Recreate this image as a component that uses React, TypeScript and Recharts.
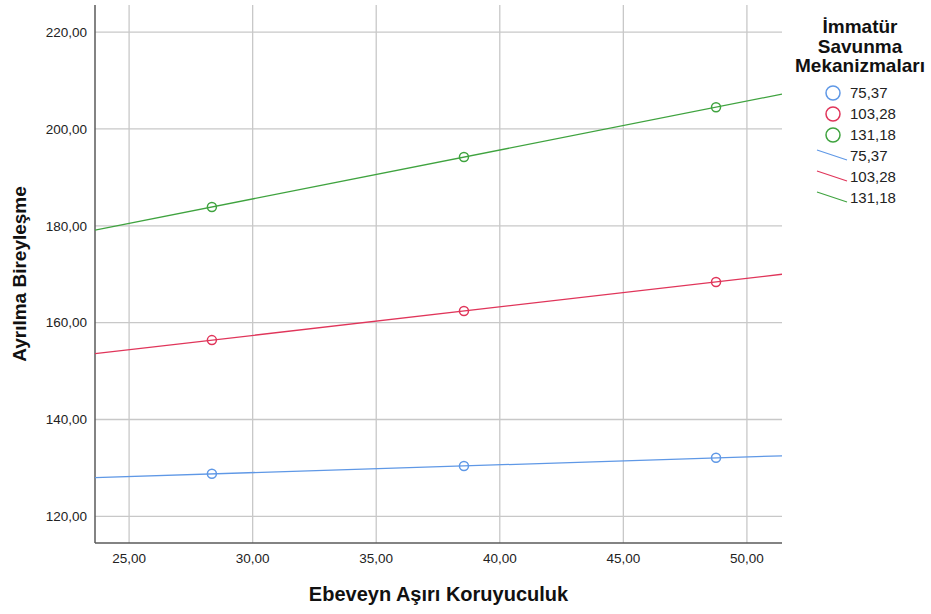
import React from "react"
import { CartesianGrid, Scatter, ScatterChart, XAxis, YAxis } from "recharts"

// group labels (levels of the moderator)
const groups = ["75,37", "103,28", "131,18"]
const colors = ["#5f98e6", "#e0355a", "#3fa33f"]

// x positions of the plotted points
const pointX = [28.35, 38.55, 48.75]
const bluePoints = [128.8, 130.4, 132.1]
const redPoints = [156.4, 162.4, 168.4]
const greenPoints = [183.9, 194.2, 204.5]

// fit lines, start and end at the axis edges
const lineX = [23.62, 51.42]
const blueLine = [128.0, 132.5]
const redLine = [153.6, 170.0]
const greenLine = [179.1, 207.2]

const xTicks = [25, 30, 35, 40, 45, 50]
const yTicks = [120, 140, 160, 180, 200, 220]
const xDomain = [23.62, 51.42]
const yDomain = [114.5, 225.6]

const toRows = (xs: number[], ys: number[]) => xs.map((x, i) => ({ x, y: ys[i] }))

const pointSets = [bluePoints, redPoints, greenPoints].map((ys) => toRows(pointX, ys))
const lineSets = [blueLine, redLine, greenLine].map((ys) => toRows(lineX, ys))

const FONT = "'Liberation Sans', Arial, sans-serif"
const fmt = (v: number) => v.toFixed(2).replace(".", ",")

const HollowDot = (color: string) => (props: any) => (
  <circle cx={props.cx} cy={props.cy} r={4.5} fill="none" stroke={color} strokeWidth={1.5} />
)

const NoDot = () => <g />

// grid only at the tick values, no lines on the plot edges
const vGrid = ({ offset }: any) =>
  xTicks.map((t) => offset.left + ((t - xDomain[0]) / (xDomain[1] - xDomain[0])) * offset.width)
const hGrid = ({ offset }: any) =>
  yTicks.map((t) => offset.top + offset.height - ((t - yDomain[0]) / (yDomain[1] - yDomain[0])) * offset.height)

function LegendBox() {
  const title = ["İmmatür", "Savunma", "Mekanizmaları"]
  return (
    <svg width={151} height={220} style={{ position: "absolute", left: 780, top: 0, fontFamily: FONT }}>
      {title.map((t, i) => (
        <text key={t} x={80} y={33 + i * 19.5} textAnchor="middle" fontSize={19} fontWeight="bold" fill="#111">
          {t}
        </text>
      ))}
      {groups.map((g, i) => (
        <g key={"c" + g}>
          <circle cx={53} cy={93 + i * 21} r={7} fill="none" stroke={colors[i]} strokeWidth={1.5} />
          <text x={70} y={98 + i * 21} fontSize={15} fill="#222">{g}</text>
        </g>
      ))}
      {groups.map((g, i) => (
        <g key={"l" + g}>
          <line x1={37} y1={150 + i * 21} x2={67} y2={160 + i * 21} stroke={colors[i]} strokeWidth={1.3} />
          <text x={70} y={161 + i * 21} fontSize={15} fill="#222">{g}</text>
        </g>
      ))}
    </svg>
  )
}

export default function App() {
  return (
    <div style={{ position: "absolute", left: 0, top: 0, width: 931, height: 614, background: "#fff" }}>
      <ScatterChart width={931} height={614} margin={{ top: 5, right: 149, bottom: 31, left: 10 }}>
        <CartesianGrid
          stroke="#c8c8c8"
          strokeWidth={1.3}
          verticalCoordinatesGenerator={vGrid}
          horizontalCoordinatesGenerator={hGrid}
        />
        <XAxis
          type="number"
          dataKey="x"
          domain={xDomain}
          ticks={xTicks}
          allowDataOverflow
          tickFormatter={fmt}
          tickLine={false}
          tickMargin={4}
          height={40}
          stroke="#5a5a5a"
          strokeWidth={1.5}
          tick={{ fill: "#222", fontSize: 13.5, fontFamily: FONT }}
          label={{
            value: "Ebeveyn Aşırı Koruyuculuk",
            position: "insideBottom",
            offset: -18,
            style: { fontFamily: FONT, fontSize: 20, fontWeight: "bold", fill: "#111" },
          }}
        />
        <YAxis
          type="number"
          dataKey="y"
          domain={yDomain}
          ticks={yTicks}
          allowDataOverflow
          tickFormatter={fmt}
          tickLine={false}
          width={85}
          stroke="#5a5a5a"
          strokeWidth={1.5}
          tick={{ fill: "#222", fontSize: 13.5, fontFamily: FONT }}
          label={{
            value: "Ayrılma Bireyleşme",
            angle: -90,
            position: "insideLeft",
            offset: 9,
            style: { fontFamily: FONT, fontSize: 19, fontWeight: "bold", fill: "#111", textAnchor: "middle" },
          }}
        />
        {lineSets.map((rows, i) => (
          <Scatter
            key={"line" + i}
            data={rows}
            line={{ stroke: colors[i], strokeWidth: 1.3 }}
            shape={NoDot}
            isAnimationActive={false}
          />
        ))}
        {pointSets.map((rows, i) => (
          <Scatter key={"pts" + i} data={rows} shape={HollowDot(colors[i])} isAnimationActive={false} />
        ))}
      </ScatterChart>
      <LegendBox />
    </div>
  )
}
